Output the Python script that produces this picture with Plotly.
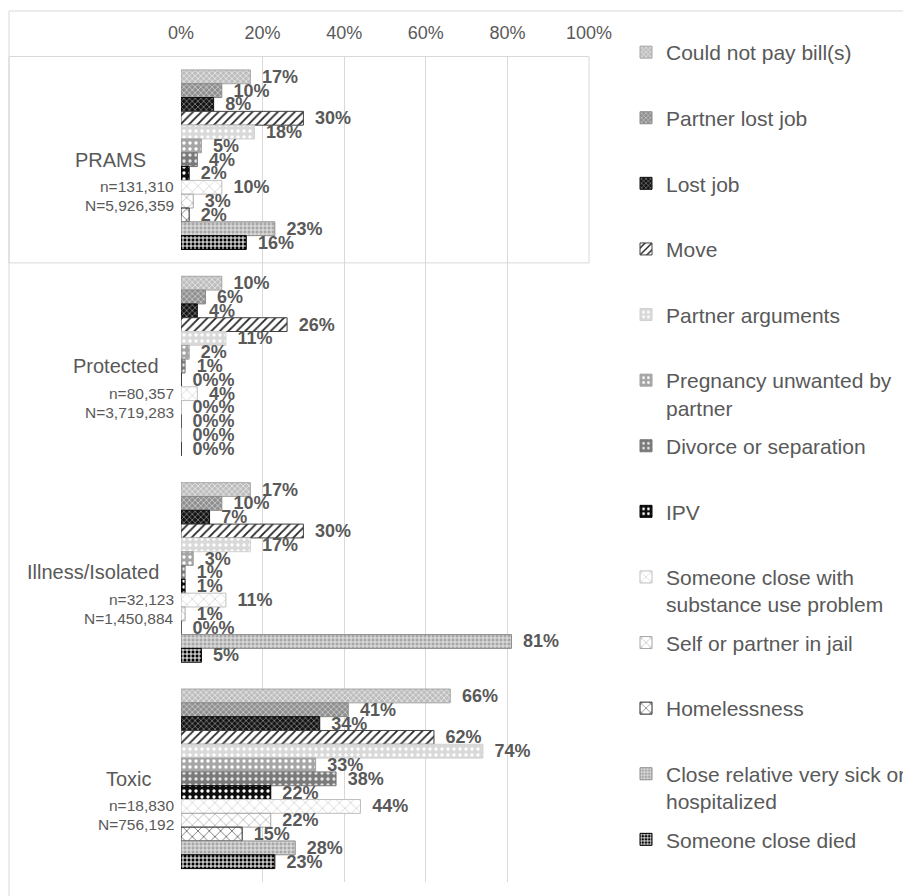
import plotly.graph_objects as go

# ---- data -------------------------------------------------------------
groups = ["PRAMS", "Protected", "Illness/Isolated", "Toxic"]
group_n = ["n=131,310", "n=80,357", "n=32,123", "n=18,830"]
group_N = ["N=5,926,359", "N=3,719,283", "N=1,450,884", "N=756,192"]

stressors = [
    "Could not pay bill(s)",
    "Partner lost job",
    "Lost job",
    "Move",
    "Partner arguments",
    "Pregnancy unwanted by<br>partner",
    "Divorce or separation",
    "IPV",
    "Someone close with<br>substance use problem",
    "Self or partner in jail",
    "Homelessness",
    "Close relative very sick or<br>hospitalized",
    "Someone close died",
]

# percent of respondents reporting each stressor, one list per group
prams = [17, 10, 8, 30, 18, 5, 4, 2, 10, 3, 2, 23, 16]
protected = [10, 6, 4, 26, 11, 2, 1, 0, 4, 0, 0, 0, 0]
illness_isolated = [17, 10, 7, 30, 17, 3, 1, 1, 11, 1, 0, 81, 5]
toxic = [66, 41, 34, 62, 74, 33, 38, 22, 44, 22, 15, 28, 23]

x_ticks = [0, 20, 40, 60, 80, 100]
x_tick_text = ["0%", "20%", "40%", "60%", "80%", "100%"]

# ---- styling ----------------------------------------------------------
W, H = 903, 896
ML, MR, MT, MB = 181, 314, 56, 14
PW, PH = W - ML - MR, H - MT - MB
FONT = "Liberation Sans, Arial, sans-serif"
GREY_TXT = "#595959"
GRID = "#d9d9d9"

# (background, foreground, shape, size, solidity, outline)
styles = [
    ("#bdbdbd", "#ececec", "x", 4, 0.35, "#a6a6a6"),
    ("#8f8f8f", "#d2d2d2", "x", 4, 0.35, "#8a8a8a"),
    ("#141414", "#9c9c9c", "x", 4, 0.3, "#111111"),
    ("#ffffff", "#262626", "/", 6, 0.3, "#404040"),
    ("#d9d9d9", "#ffffff", ".", 6, 0.25, "#d0d0d0"),
    ("#a6a6a6", "#ffffff", ".", 6, 0.25, "#a0a0a0"),
    ("#7a7a7a", "#e6e6e6", ".", 6, 0.25, "#757575"),
    ("#0d0d0d", "#ffffff", ".", 6, 0.25, "#000000"),
    ("#ffffff", "#c4c4c4", "x", 8, 0.14, "#bfbfbf"),
    ("#ffffff", "#9a9a9a", "x", 8, 0.14, "#a6a6a6"),
    ("#ffffff", "#262626", "x", 8, 0.14, "#262626"),
    ("#a6a6a6", "#ececec", "+", 4, 0.4, "#8c8c8c"),
    ("#000000", "#ffffff", "+", 4, 0.45, "#000000"),
]

# vertical centre (px) of each legend entry's first line
legend_rows = [48 + 65.6 * i for i in range(len(stressors))]


def px_x(px):
    return (px - ML) / PW


def px_y(py):
    return 1 - (py - MT) / PH


fig = go.Figure()
layout_legends = {}
for i, name in enumerate(stressors):
    bg, fg, shape, size, solid, outline = styles[i]
    vals = [prams[i], protected[i], illness_isolated[i], toxic[i]]
    leg_id = "legend" if i == 0 else f"legend{i + 1}"
    fig.add_trace(
        go.Bar(
            y=groups,
            x=vals,
            name=name,
            orientation="h",
            legend=leg_id,
            marker=dict(
                color=bg,
                line=dict(color=outline, width=1),
                pattern=dict(shape=shape, fgcolor=fg, bgcolor=bg,
                             size=size, solidity=solid, fillmode="replace"),
            ),
            texttemplate="\u00a0\u2009%{x}%",
            textposition="outside",
            constraintext="none",
            cliponaxis=False,
            textfont=dict(family=FONT, size=18, color=GREY_TXT, weight="bold"),
            hoverinfo="skip",
        )
    )
    layout_legends[leg_id] = dict(
        x=626 / W,
        y=1 - (legend_rows[i] - 16) / H,
        xref="container",
        yref="container",
        xanchor="left",
        yanchor="top",
        valign="top",
        bgcolor="rgba(0,0,0,0)",
        font=dict(family=FONT, size=21, color=GREY_TXT),
        itemclick=False,
        itemdoubleclick=False,
    )

# category labels: group name, then sample sizes underneath
annotations = []
name_right = [148, 161, 161, 154]
for g, n_txt, N_txt, right in zip(groups, group_n, group_N, name_right):
    annotations.append(dict(
        x=px_x(right), y=g, xref="paper", yref="y", text=g,
        xanchor="right", yanchor="middle", showarrow=False,
        font=dict(family=FONT, size=20, color=GREY_TXT)))
    annotations.append(dict(
        x=px_x(176), y=g, xref="paper", yref="y", text=n_txt, yshift=-27,
        xanchor="right", yanchor="middle", showarrow=False,
        font=dict(family=FONT, size=15.5, color=GREY_TXT)))
    annotations.append(dict(
        x=px_x(176), y=g, xref="paper", yref="y", text=N_txt, yshift=-46,
        xanchor="right", yanchor="middle", showarrow=False,
        font=dict(family=FONT, size=15.5, color=GREY_TXT)))

shapes = [
    # outer chart frame (top and left edges)
    dict(type="line", xref="paper", yref="paper",
         x0=px_x(9), x1=px_x(W + 5), y0=px_y(11), y1=px_y(11),
         line=dict(color=GRID, width=1)),
    dict(type="line", xref="paper", yref="paper",
         x0=px_x(9), x1=px_x(9), y0=px_y(11), y1=px_y(H + 5),
         line=dict(color=GRID, width=1)),
    # box around the PRAMS reference group
    dict(type="rect", xref="paper", yref="y",
         x0=px_x(9), x1=1, y0=-0.5, y1=0.5,
         line=dict(color=GRID, width=1), fillcolor="rgba(0,0,0,0)"),
]

fig.update_layout(
    width=W,
    height=H,
    margin=dict(l=ML, r=MR, t=MT, b=MB, autoexpand=False),
    paper_bgcolor="white",
    plot_bgcolor="white",
    barmode="group",
    bargap=0.13,
    bargroupgap=0,
    font=dict(family=FONT, color=GREY_TXT),
    showlegend=True,
    xaxis=dict(
        side="top",
        range=[0, 100],
        tickmode="array",
        tickvals=x_ticks,
        ticktext=x_tick_text,
        ticklabelstandoff=12,
        showgrid=True,
        gridcolor=GRID,
        gridwidth=1,
        zeroline=False,
        showline=False,
        ticks="",
        tickfont=dict(family=FONT, size=18, color=GREY_TXT),
        fixedrange=True,
    ),
    yaxis=dict(
        type="category",
        categoryorder="array",
        categoryarray=groups,
        autorange="reversed",
        showticklabels=False,
        showgrid=False,
        zeroline=False,
        showline=False,
        ticks="",
        fixedrange=True,
    ),
    annotations=annotations,
    shapes=shapes,
    **layout_legends,
)

fig.write_html("out.html")
